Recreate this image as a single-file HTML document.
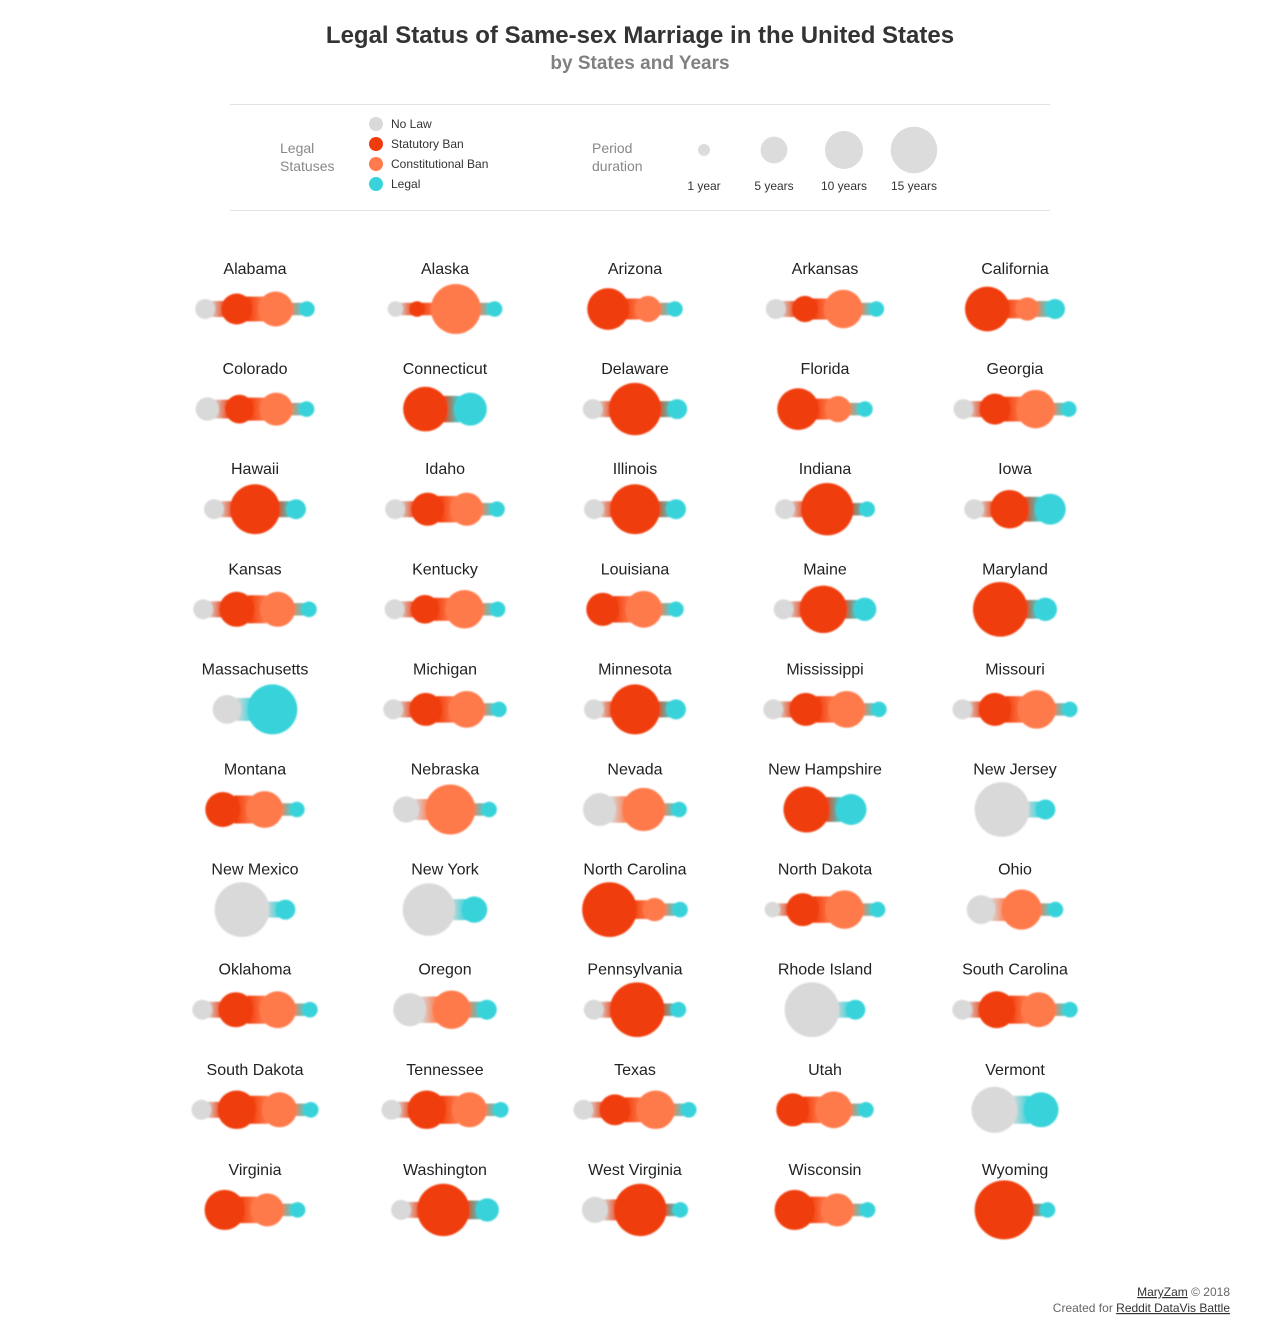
<!DOCTYPE html>
<html><head><meta charset="utf-8">
<style>
body{margin:0;background:#fff;font-family:"Liberation Sans",Arial,sans-serif;}
#wrap{position:relative;width:1280px;height:1335px;overflow:hidden;}
svg text{font-family:"Liberation Sans",Arial,sans-serif;}
</style></head><body>
<div id="wrap">
<svg id="chart" width="1280" height="1335">
<defs id="defs">
<filter id="soft" x="-20%" y="-50%" width="140%" height="200%">
<feGaussianBlur in="SourceGraphic" stdDeviation="0.8"/>
</filter>
</defs>
<text x="640" y="43" text-anchor="middle" font-size="24" font-weight="bold" fill="#333">Legal Status of Same-sex Marriage in the United States</text>
<text x="640" y="69" text-anchor="middle" font-size="19" font-weight="bold" fill="#808080">by States and Years</text>
<line x1="230" y1="104.5" x2="1050" y2="104.5" stroke="#e3e3e3"/>
<line x1="230" y1="210.5" x2="1050" y2="210.5" stroke="#e3e3e3"/>
<g id="legend">
<text x="280" y="153" font-size="14" fill="#888"><tspan x="280">Legal</tspan><tspan x="280" dy="18">Statuses</tspan></text>
<text x="592" y="153" font-size="14" fill="#888"><tspan x="592">Period</tspan><tspan x="592" dy="18">duration</tspan></text>
</g>
<g id="grid"></g>
<text x="1230" y="1296" text-anchor="end" font-size="12" fill="#666"><tspan text-decoration="underline" fill="#333">MaryZam</tspan> © 2018</text>
<text x="1230" y="1312" text-anchor="end" font-size="12" fill="#666">Created for <tspan text-decoration="underline" fill="#333">Reddit DataVis Battle</tspan></text>
</svg>
</div>
<script>
const statusCodes = ["N","S","C","L"];
const statusLabels = ["No Law","Statutory Ban","Constitutional Ban","Legal"];
const statusColors = {N:"#d9d9d9",S:"#f03c0a",C:"#ff7a4c",L:"#38d3da"};
const legendYears = [1,5,10,15];
const stateNames = ["Alabama","Alaska","Arizona","Arkansas","California","Colorado","Connecticut","Delaware","Florida","Georgia","Hawaii","Idaho","Illinois","Indiana","Iowa","Kansas","Kentucky","Louisiana","Maine","Maryland","Massachusetts","Michigan","Minnesota","Mississippi","Missouri","Montana","Nebraska","Nevada","New Hampshire","New Jersey","New Mexico","New York","North Carolina","North Dakota","Ohio","Oklahoma","Oregon","Pennsylvania","Rhode Island","South Carolina","South Dakota","Tennessee","Texas","Utah","Vermont","Virginia","Washington","West Virginia","Wisconsin","Wyoming"];
const stateStatuses = ["NSCL","NSCL","SCL","NSCL","SCL","NSCL","SL","NSL","SCL","NSCL","NSL","NSCL","NSL","NSL","NSL","NSCL","NSCL","SCL","NSL","SL","NL","NSCL","NSL","NSCL","NSCL","SCL","NCL","NCL","SL","NL","NL","NL","SCL","NSCL","NCL","NSCL","NCL","NSL","NL","NSCL","NSCL","NSCL","NSCL","SCL","NL","SCL","NSL","NSL","SCL","SL"];
const stateYears = [[2,6,8,1],[1,1,18,1],[12,4,1],[2,4,10,1],[14,3,2],[3,5,7,1],[14,7],[2,20,2],[12,4,1],[2,6,10,1],[2,18,2],[2,7,7,1],[2,18,2],[2,20,1],[2,10,6],[2,8,8,1],[2,5,10,1],[7,9,1],[2,16,3],[22,3],[5,18],[2,7,9,1],[2,18,2],[2,7,9,1],[2,7,10,1],[8,9,1],[4,18,1],[7,13,1],[15,6],[22,2],[22,2],[20,4],[22,3,1],[1,7,10,1],[5,11,1],[2,8,9,1],[7,10,2],[2,22,1],[22,2],[2,9,8,1],[2,10,8,1],[2,10,8,1],[2,6,10,1],[7,9,1],[15,8],[11,7,1],[2,20,3],[4,20,1],[11,7,1],[26,1]];

const svg = document.getElementById('chart');
const defs = document.getElementById('defs');
const NS = "http://www.w3.org/2000/svg";
function rScale(y){ return 6*Math.sqrt(y); }
function rBlob(y){ return 2.5+5.3*Math.sqrt(y); }
function colX(i){ return 255 + 190*i; }
function rowY(j){ return 268 + 100.1*j; }
function mk(tag, attrs, parent){ const e=document.createElementNS(NS,tag); for(const k in attrs) e.setAttribute(k,attrs[k]); parent.appendChild(e); return e; }

const legend = document.getElementById('legend');
statusLabels.forEach((lab,i)=>{
  const c = mk('circle',{cx:376,cy:124+20*i,r:7,fill:statusColors[statusCodes[i]]},legend);
  
  
  const t = mk('text',{x:391,y:128+20*i,'font-size':12,fill:'#333'},legend);
  t.textContent = lab;
  
  
});
const legendX = [704,774,844,914];
legendYears.forEach((y,i)=>{
  const c = mk('circle',{cx:legendX[i],cy:150,r:rScale(y),fill:'#dcdcdc'},legend);
  
  
  const t = mk('text',{x:legendX[i],y:190,'font-size':12,fill:'#333','text-anchor':'middle'},legend);
  t.textContent = y + (y===1?' year':' years');
  
  
});

const grid = document.getElementById('grid');
let gid = 0;
stateNames.forEach((name,k)=>{
  const cx = colX(k%5), ly = rowY(Math.floor(k/5)), cy = ly+41;
  const g = mk('g',{},grid);
  
  
  const t = mk('text',{x:cx,y:ly+6,'text-anchor':'middle','font-size':16,fill:'#222'},g);
  t.textContent = name;
  
  
  const sts = stateStatuses[k].split(''), yrs = stateYears[k];
  const rs = yrs.map(rBlob);
  const xs=[0];
  for(let i=1;i<rs.length;i++) xs.push(xs[i-1]+rs[i-1]+rs[i]+6);
  const left = xs[0]-rs[0], right = xs[xs.length-1]+rs[rs.length-1];
  const off = cx - (left+right)/2;
  const bg = mk('g',{filter:'url(#soft)'},g);
  
  
  for(let i=0;i<rs.length-1;i++){
    const e1 = xs[i]+off+rs[i], e2 = xs[i+1]+off-rs[i+1];
    const id = 'gr'+(gid++);
    const lg = mk('linearGradient',{id:id,gradientUnits:'userSpaceOnUse',x1:e1-5,x2:e2+5,y1:0,y2:0},defs);
    mk('stop',{offset:0,'stop-color':statusColors[sts[i]]},lg);
    mk('stop',{offset:1,'stop-color':statusColors[sts[i+1]]},lg);
    const h = 0.8*Math.min(rs[i],rs[i+1]);
    const rc = mk('rect',{x:e1-6,y:cy-h,width:e2-e1+12,height:2*h,fill:'url(#'+id+')'},bg);
    
    
  }
  sts.forEach((s,i)=>{
    const c = mk('circle',{cx:xs[i]+off,cy:cy,r:rs[i],fill:statusColors[s]},bg);
    
    
  });
});
</script>
</body></html>
